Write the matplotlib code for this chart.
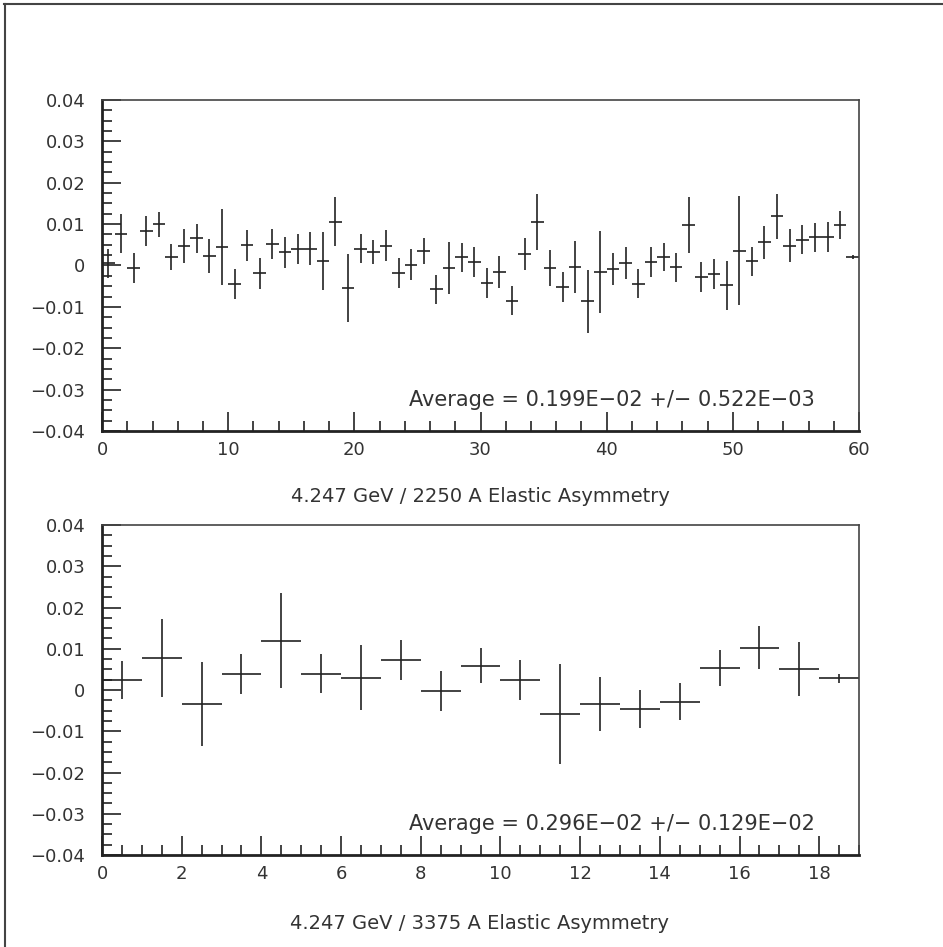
import matplotlib
matplotlib.use('Agg')
import matplotlib.pyplot as plt
from matplotlib.ticker import MultipleLocator, AutoMinorLocator
from matplotlib.lines import Line2D

# top panel: 60 bins, 2250 A
top_x = [i + 0.5 for i in range(60)]
top_y = [0.0005, 0.0077, -0.0006, 0.0083, 0.0100, 0.0020, 0.0047, 0.0066, 0.0023, 0.0045,
         -0.0045, 0.0049, -0.0019, 0.0052, 0.0032, 0.0040, 0.0040, 0.0010, 0.0106, -0.0055,
         0.0040, 0.0032, 0.0048, -0.0018, 0.0002, 0.0035, -0.0058, -0.0006, 0.0020, 0.0008,
         -0.0042, -0.0016, -0.0085, 0.0028, 0.0106, -0.0006, -0.0052, -0.0004, -0.0086, -0.0016,
         -0.0008, 0.0006, -0.0044, 0.0008, 0.0020, -0.0004, 0.0097, -0.0028, -0.0020, -0.0048,
         0.0036, 0.0010, 0.0056, 0.0119, 0.0048, 0.0062, 0.0068, 0.0068, 0.0098, 0.0020]
top_err = [0.0036, 0.0048, 0.0036, 0.0037, 0.0030, 0.0031, 0.0042, 0.0035, 0.0042, 0.0091,
           0.0036, 0.0037, 0.0037, 0.0037, 0.0037, 0.0036, 0.0040, 0.0070, 0.0059, 0.0082,
           0.0035, 0.0029, 0.0038, 0.0037, 0.0037, 0.0032, 0.0035, 0.0062, 0.0035, 0.0036,
           0.0036, 0.0038, 0.0035, 0.0039, 0.0068, 0.0043, 0.0036, 0.0062, 0.0076, 0.0100,
           0.0038, 0.0038, 0.0035, 0.0036, 0.0034, 0.0035, 0.0068, 0.0036, 0.0036, 0.0059,
           0.0131, 0.0035, 0.0040, 0.0055, 0.0040, 0.0035, 0.0035, 0.0036, 0.0034, 0.0005]

# bottom panel: 19 bins, 3375 A
bot_x = [i + 0.5 for i in range(19)]
bot_y = [0.0024, 0.0078, -0.0034, 0.0039, 0.0120, 0.0040, 0.0030, 0.0073, -0.0002, 0.0059,
         0.0024, -0.0058, -0.0034, -0.0046, -0.0028, 0.0053, 0.0103, 0.0051, 0.0028]
bot_err = [0.0046, 0.0094, 0.0101, 0.0048, 0.0114, 0.0048, 0.0078, 0.0048, 0.0048, 0.0042,
           0.0049, 0.0122, 0.0065, 0.0046, 0.0044, 0.0044, 0.0053, 0.0065, 0.0011]

y_ticks = [0.04, 0.03, 0.02, 0.01, 0, -0.01, -0.02, -0.03, -0.04]
y_labels = ['0.04', '0.03', '0.02', '0.01', '0', '\u22120.01', '\u22120.02', '\u22120.03', '\u22120.04']

panels = [
    (top_x, top_y, top_err, 60, 10, 2, [0.1082, 0.5449, 0.8028, 0.3495],
     'Average = 0.199E\u221202 +/\u2212 0.522E\u221203', '4.247 GeV / 2250 A Elastic Asymmetry', 0.4762),
    (bot_x, bot_y, bot_err, 19, 2, 0.5, [0.1082, 0.0971, 0.8028, 0.3485],
     'Average = 0.296E\u221202 +/\u2212 0.129E\u221202', '4.247 GeV / 3375 A Elastic Asymmetry', 0.0253),
]

ink = '#222222'
text_ink = '#333333'
fig = plt.figure(figsize=(9.43, 9.47), dpi=100)

for xs, ys, es, xmax, xmaj, xmin, rect, avg, title, ty in panels:
    ax = fig.add_axes(rect)
    ax.errorbar(xs, ys, yerr=es, xerr=0.5, fmt='none', ecolor=ink, elinewidth=1.2, capsize=0)
    ax.set_xlim(0, xmax)
    ax.set_ylim(-0.04, 0.04)
    ax.set_yticks(y_ticks, y_labels)
    ax.xaxis.set_major_locator(MultipleLocator(xmaj))
    ax.xaxis.set_minor_locator(MultipleLocator(xmin))
    ax.yaxis.set_minor_locator(AutoMinorLocator(4))
    ax.tick_params(which='both', direction='in', top=False, right=False, color=ink, width=1.2,
                   labelsize=13, labelcolor=text_ink)
    ax.tick_params(which='major', length=14)
    ax.tick_params(which='minor', length=7)
    ax.tick_params(axis='y', pad=12)
    ax.tick_params(axis='x', pad=7)
    for s in ['left', 'bottom']:
        ax.spines[s].set_linewidth(2)
        ax.spines[s].set_color(ink)
    for s in ['top', 'right']:
        ax.spines[s].set_linewidth(1.2)
        ax.spines[s].set_color('#444444')
    ax.text(0.942, 0.093, avg, transform=ax.transAxes, ha='right', va='center',
            fontsize=15, color=text_ink)
    fig.text(0.509, ty, title, ha='center', va='center', fontsize=14, color=text_ink)

# outer frame (top and left edges visible)
fig.add_artist(Line2D([0.0045, 1.0], [0.996, 0.996], transform=fig.transFigure, color='#444444', lw=1.5))
fig.add_artist(Line2D([0.0055, 0.0055], [0.0, 0.996], transform=fig.transFigure, color='#444444', lw=1.5))

plt.savefig('out.png', dpi=100)
